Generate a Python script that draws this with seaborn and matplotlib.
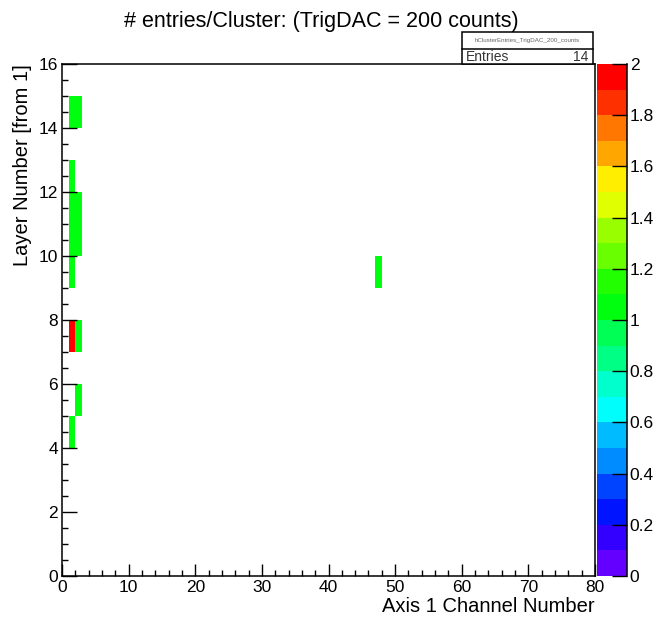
import colorsys
import numpy as np
import pandas as pd
import matplotlib
matplotlib.use("Agg")
import matplotlib.pyplot as plt
import seaborn as sns
from matplotlib.colors import ListedColormap
from matplotlib.ticker import MultipleLocator
from matplotlib.patches import Rectangle
from matplotlib.lines import Line2D

# ---------------- data ----------------
title = "# entries/Cluster: (TrigDAC = 200 counts)"
x_label = "Axis 1 Channel Number"
y_label = "Layer Number [from 1]"
stats_name = "hClusterEntries_TrigDAC_200_counts"
stats_key = "Entries"
n_entries = 14

channels = [1, 2, 1, 1, 2, 1, 2, 1, 1, 2, 2, 1, 47]
layers = [14, 14, 12, 11, 11, 10, 10, 9, 7, 7, 5, 4, 9]
counts = [1, 1, 1, 1, 1, 1, 1, 1, 2, 1, 1, 1, 1]

n_x_bins = 80
n_y_bins = 16
z_min, z_max, n_levels = 0, 2, 20

x_ticks = [0, 10, 20, 30, 40, 50, 60, 70, 80]
y_ticks = [0, 2, 4, 6, 8, 10, 12, 14, 16]
z_ticks = [0, 0.2, 0.4, 0.6, 0.8, 1.0, 1.2, 1.4, 1.6, 1.8, 2.0]
z_tick_labels = ["0", "0.2", "0.4", "0.6", "0.8", "1", "1.2", "1.4", "1.6", "1.8", "2"]

# ---------------- palette (ROOT "pretty" violet->red) ----------------
pal50 = []
for i in range(49):
    hue = 280 - (i + 1) * 280 / 50
    pal50.append(colorsys.hls_to_rgb(hue / 360.0, 0.5, 1.0))
pal50.append((1.0, 0.0, 0.0))
level_colors = [pal50[int((k + 0.99) * 50 / n_levels)] for k in range(n_levels)]
cmap = ListedColormap(level_colors)

df = pd.DataFrame({"channel": channels, "layer": layers, "count": counts})
grid = (df.pivot_table(index="layer", columns="channel", values="count", aggfunc="sum")
          .reindex(index=range(n_y_bins), columns=range(n_x_bins)))

# ---------------- figure ----------------
W, H = 660, 620
fig = plt.figure(figsize=(W / 100, H / 100), dpi=100)
plt.rcParams["font.family"] = ["Liberation Sans", "DejaVu Sans"]

def fx(px):
    return px / W

def fy(py):
    return 1 - py / H

ax = fig.add_axes([fx(62), fy(576), (595 - 62) / W, (576 - 64) / H])
cax = fig.add_axes([fx(597), fy(576), (627 - 597) / W, (576 - 64) / H])

sns.heatmap(grid, ax=ax, cmap=cmap, vmin=z_min, vmax=z_max, cbar_ax=cax,
            xticklabels=False, yticklabels=False, linewidths=0)

ax.set_xlim(0, n_x_bins)
ax.set_ylim(0, n_y_bins)
for sp in ax.spines.values():
    sp.set_visible(True)
    sp.set_linewidth(1.1)
    sp.set_color("black")

ax.set_xticks(x_ticks)
ax.set_xticklabels([str(t) for t in x_ticks])
ax.set_yticks(y_ticks)
ax.set_yticklabels([str(t) for t in y_ticks])
ax.xaxis.set_minor_locator(MultipleLocator(2))
ax.yaxis.set_minor_locator(MultipleLocator(0.5))
ax.tick_params(axis="x", which="major", direction="in", length=9, width=1, labelsize=12.5, pad=3, rotation=0)
ax.tick_params(axis="x", which="minor", direction="in", length=4.5, width=1)
ax.tick_params(axis="y", which="major", direction="in", length=11, width=1, labelsize=12.5, pad=3, rotation=0)
ax.tick_params(axis="y", which="minor", direction="in", length=4.5, width=1)
ax.tick_params(top=False, right=False, which="both")

ax.set_xlabel(x_label, loc="right", fontsize=14.5, labelpad=1)
ax.set_ylabel(y_label, loc="top", fontsize=14.5, labelpad=5)

# colorbar styling
cb = ax.collections[0].colorbar
cb.outline.set_visible(False)
cax.set_ylim(z_min, z_max)
cax.set_yticks(z_ticks)
cax.set_yticklabels(z_tick_labels)
cax.yaxis.set_ticks_position("right")
cax.tick_params(axis="y", direction="in", length=11, width=1, labelsize=12.5, pad=2)
cax.tick_params(axis="y", which="minor", length=0)
cax.add_line(Line2D([1, 1], [0, 1], transform=cax.transAxes, color="black", lw=1.1, clip_on=False))

# title
fig.text(fx(321), fy(21), title, ha="center", va="center", fontsize=15.5)

# stats box
fig.patches.append(Rectangle((fx(462), fy(64)), (593 - 462) / W, (64 - 32) / H,
                             transform=fig.transFigure, facecolor="white",
                             edgecolor="black", lw=1.1, zorder=5))
fig.lines.append(Line2D([fx(462), fx(593)], [fy(49), fy(49)], transform=fig.transFigure,
                        color="black", lw=1.1, zorder=6))
fig.text(fx(527), fy(40.5), stats_name, ha="center", va="center", fontsize=4.5,
         color="#666666", zorder=7)
fig.text(fx(466), fy(57), stats_key, ha="left", va="center", fontsize=10, color="#333333", zorder=7)
fig.text(fx(588), fy(57), str(n_entries), ha="right", va="center", fontsize=10, color="#333333", zorder=7)

fig.savefig("out.png", dpi=100)
